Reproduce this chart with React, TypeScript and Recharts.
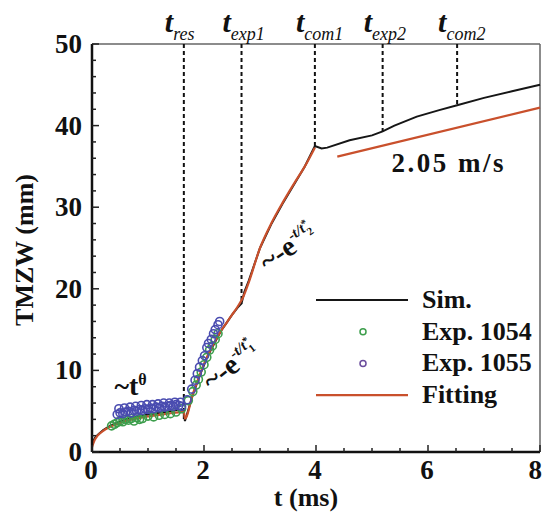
import React from "react";
import {
  ComposedChart,
  Line,
  Scatter,
  XAxis,
  YAxis,
  ReferenceLine,
  ReferenceDot,
  Legend,
} from "recharts";

const FONT = "Liberation Serif, Times New Roman, serif";
const SIM_COLOR = "#161616";
const FIT_COLOR = "#c9502c";
const GREEN = "#3d9e4c";
const BLUE = "#4a4cb0";

// simulation curve (black)
const simT = [0, 0.05, 0.1, 0.2, 0.3, 0.4, 0.5, 0.6, 0.7, 0.8, 0.9, 1.0, 1.1, 1.2, 1.3, 1.4, 1.5, 1.6, 1.63, 1.66, 1.8, 1.92, 2.05, 2.16, 2.3, 2.4, 2.5, 2.6, 2.67, 2.72, 2.8, 3.0, 3.2, 3.4, 3.6, 3.8, 3.98, 4.1, 4.2, 4.6, 5.0, 5.19, 5.4, 5.8, 6.2, 6.52, 7.0, 7.5, 8.0];
const simY = [1.0, 1.7, 2.1, 2.7, 3.1, 3.45, 3.75, 4.0, 4.2, 4.35, 4.5, 4.6, 4.7, 4.8, 4.9, 5.0, 5.1, 5.2, 5.0, 3.8, 7.0, 9.3, 11.5, 13.0, 14.8, 15.8, 16.8, 17.7, 18.2, 19.6, 21.0, 25.0, 27.9, 30.4, 32.7, 35.0, 37.5, 37.2, 37.3, 38.2, 38.8, 39.3, 40.0, 41.1, 41.9, 42.5, 43.4, 44.2, 45.0];

// fitting curves (red)
const fitT = [0, 0.02, 0.05, 0.1, 0.2, 0.3, 0.4, 0.5, 0.6, 0.7, 0.8, 0.9, 1.0, 1.2, 1.4, 1.6, 1.64, 1.66, 1.8, 1.92, 2.05, 2.16, 2.3, 2.4, 2.5, 2.6, 2.7, 2.8, 3.0, 3.2, 3.4, 3.6, 3.8, 3.98];
const fitY = [0.6, 1.0, 1.5, 2.0, 2.6, 3.0, 3.3, 3.55, 3.8, 3.95, 4.1, 4.25, 4.35, 4.55, 4.75, 4.9, 4.95, 4.1, 7.1, 9.4, 11.6, 13.1, 14.8, 15.8, 16.8, 17.8, 19.0, 20.8, 25.0, 28.0, 30.5, 32.8, 35.0, 37.3];
const fit2T = [4.38, 8.0];
const fit2Y = [36.2, 42.2];

// experiments
const e1054T = [0.35, 0.4, 0.45, 0.5, 0.55, 0.6, 0.65, 0.7, 0.75, 0.8, 0.85, 0.9, 1.0, 1.1, 1.2, 1.3, 1.4, 1.5, 1.6, 1.72, 1.8, 1.86, 1.9, 1.95, 2.0, 2.05, 2.1, 2.15, 2.2, 2.25];
const e1054Y = [3.2, 3.4, 3.6, 3.8, 3.7, 4.0, 3.9, 4.1, 3.8, 4.2, 4.0, 4.1, 4.4, 4.3, 4.5, 4.6, 4.7, 4.9, 5.3, 6.3, 7.4, 8.2, 8.9, 9.8, 10.7, 11.6, 12.5, 13.0, 13.8, 14.5];
const e1055T = [0.45, 0.5, 0.55, 0.6, 0.65, 0.7, 0.75, 0.8, 0.85, 0.9, 0.95, 1.0, 1.05, 1.1, 1.15, 1.2, 1.25, 1.3, 1.35, 1.4, 1.45, 1.5, 1.55, 1.6, 0.48, 0.58, 0.68, 0.78, 0.88, 0.98, 1.08, 1.18, 1.28, 1.38, 1.48, 1.58, 1.7, 1.78, 1.84, 1.88, 1.92, 1.97, 2.01, 2.05, 2.08, 2.13, 2.17, 2.2, 2.25, 2.28];
const e1055Y = [4.6, 4.8, 4.7, 4.9, 5.0, 4.8, 5.1, 5.0, 5.2, 5.1, 5.3, 5.2, 5.4, 5.3, 5.5, 5.4, 5.6, 5.5, 5.6, 5.7, 5.6, 5.8, 5.7, 5.6, 5.3, 5.4, 5.5, 5.6, 5.7, 5.8, 5.8, 5.9, 6.0, 6.0, 6.1, 6.1, 6.4, 7.7, 8.8, 9.6, 10.4, 11.2, 11.8, 12.8, 13.3, 13.8, 14.5, 15.0, 15.6, 16.0];

// characteristic times
const markerT = [1.64, 2.67, 3.98, 5.19, 6.52];
const markerY = [3.8, 18.2, 37.5, 39.3, 42.5];
const markerSubs = ["res", "exp1", "com1", "exp2", "com2"];

const xTicks = [0, 0.5, 1, 1.5, 2, 2.5, 3, 3.5, 4, 4.5, 5, 5.5, 6, 6.5, 7, 7.5, 8];
const yTicks = [0, 2, 4, 6, 8, 10, 12, 14, 16, 18, 20, 22, 24, 26, 28, 30, 32, 34, 36, 38, 40, 42, 44, 46, 48, 50];

const seriesNames = ["Sim.", "Exp. 1054", "Exp. 1055", "Fitting"];

const toPts = (ts: number[], ys: number[]) => ts.map((t, i) => ({ t, y: ys[i] }));
const simData = toPts(simT, simY);
const fitData = toPts(fitT, fitY);
const fit2Data = toPts(fit2T, fit2Y);
const e1054Data = toPts(e1054T, e1054Y);
const e1055Data = toPts(e1055T, e1055Y);

const txt = { fontFamily: FONT, fontWeight: "bold" as const };

const XTick = (p: any) => {
  const v = p.payload.value;
  const major = v % 2 === 0;
  const last = v === 8;
  return (
    <g>
      <line x1={p.x} x2={p.x} y1={p.y} y2={p.y - (major ? 7 : 4)} stroke="#222" strokeWidth={1.5} />
      {major && (
        <text
          x={last ? p.x + 2 : p.x - 1}
          y={p.y + 27}
          textAnchor={last ? "end" : "middle"}
          style={txt}
          fontSize={27}
          fill="#111"
        >
          {v}
        </text>
      )}
    </g>
  );
};

const YTick = (p: any) => {
  const v = p.payload.value;
  const major = v % 10 === 0;
  return (
    <g>
      <line x1={p.x} x2={p.x + (major ? 7 : 4)} y1={p.y} y2={p.y} stroke="#222" strokeWidth={1.5} />
      {major && (
        <text x={p.x - 10} y={p.y + 9} textAnchor="end" style={txt} fontSize={27} fill="#111">
          {v}
        </text>
      )}
    </g>
  );
};

const openCircle = (color: string, r: number) => (p: any) =>
  <circle cx={p.cx} cy={p.cy} r={r} fill="none" stroke={color} strokeWidth={1.6} />;

const markerLabel = (sub: string) => (p: any) => {
  const vb = p.viewBox;
  return (
    <text x={vb.x - 19} y={32} style={{ fontFamily: FONT }} fill="#111">
      <tspan fontSize={30} fontWeight="bold" fontStyle="italic">t</tspan>
      <tspan fontSize={18} fontStyle="italic" dy={8}>{sub}</tspan>
    </text>
  );
};

const thetaLabel = (p: any) => (
  <text x={p.viewBox.x} y={p.viewBox.y} style={txt} fill="#111">
    <tspan fontSize={28}>~t</tspan>
    <tspan fontSize={16} dy={-10}>θ</tspan>
  </text>
);

const expLabel = (idx: string, angle: number) => (p: any) => {
  const { x, y } = p.viewBox;
  return (
    <text x={x} y={y} style={txt} fill="#111" transform={`rotate(${angle} ${x} ${y})`}>
      <tspan fontSize={29}>~-e</tspan>
      <tspan fontSize={15} dy={-12} fontStyle="italic">-t/t</tspan>
      <tspan fontSize={11} dy={-4}>*</tspan>
      <tspan fontSize={11} dx={-5} dy={10}>{idx}</tspan>
    </text>
  );
};

const speedLabel = (p: any) => (
  <text x={p.viewBox.x} y={p.viewBox.y} style={txt} fontSize={27} letterSpacing={2.5} fill="#111">
    2.05 m/s
  </text>
);

const LegendBox = () => {
  const rows = [
    { kind: "line", color: SIM_COLOR },
    { kind: "dot", color: GREEN },
    { kind: "dot", color: "#6a4c9c" },
    { kind: "line", color: FIT_COLOR },
  ];
  return (
    <svg width={240} height={130}>
      {rows.map((r, i) => {
        const cy = 17 + i * 31.7;
        return (
          <g key={i}>
            {r.kind === "line" ? (
              <line x1={11} x2={103} y1={cy} y2={cy} stroke={r.color} strokeWidth={2.2} />
            ) : (
              <circle cx={58} cy={cy} r={3} fill="none" stroke={r.color} strokeWidth={1.5} />
            )}
            <text x={117} y={cy + 8} style={txt} fontSize={26} fill="#111">
              {seriesNames[i]}
            </text>
          </g>
        );
      })}
    </svg>
  );
};

export default function App() {
  return (
    <div style={{ position: "absolute", left: 0, top: 0, width: 543, height: 515, background: "#fff" }}>
      <ComposedChart width={543} height={515} margin={{ top: 44, right: 3, bottom: 0, left: 0 }}>
        <XAxis
          type="number"
          dataKey="t"
          domain={[0, 8]}
          ticks={xTicks}
          interval={0}
          height={63}
          tickSize={0}
          tickMargin={0}
          tickLine={false}
          tick={XTick}
          axisLine={{ stroke: "#111", strokeWidth: 2.5 }}
          label={(p: any) => (
            <text
              x={p.viewBox.x + p.viewBox.width / 2 - 10}
              y={p.viewBox.y + 54}
              textAnchor="middle"
              style={txt}
              fontSize={26}
              fill="#111"
            >
              t (ms)
            </text>
          )}
        />
        <YAxis
          type="number"
          dataKey="y"
          domain={[0, 50]}
          ticks={yTicks}
          interval={0}
          width={92}
          tickSize={0}
          tickMargin={0}
          tickLine={false}
          tick={YTick}
          axisLine={{ stroke: "#111", strokeWidth: 2.5 }}
          label={() => (
            <text
              x={24}
              y={250}
              transform="rotate(-90 24 250)"
              textAnchor="middle"
              dominantBaseline="central"
              style={txt}
              fontSize={26}
              fill="#111"
            >
              TMZW (mm)
            </text>
          )}
        />
        <ReferenceLine y={50} stroke="#666" strokeWidth={1.5} />
        <ReferenceLine x={8} stroke="#666" strokeWidth={1.5} />
        {markerT.map((t, i) => (
          <ReferenceLine
            key={markerSubs[i]}
            segment={[
              { x: t, y: 50 },
              { x: t, y: markerY[i] },
            ]}
            stroke="#111"
            strokeWidth={2}
            strokeDasharray="4 3"
            label={markerLabel(markerSubs[i])}
          />
        ))}
        <Scatter name={seriesNames[1]} data={e1054Data} dataKey="y" shape={openCircle(GREEN, 4)} isAnimationActive={false} />
        <Scatter name={seriesNames[2]} data={e1055Data} dataKey="y" shape={openCircle(BLUE, 4)} isAnimationActive={false} />
        <Line name={seriesNames[0]} data={simData} dataKey="y" type="linear" stroke={SIM_COLOR} strokeWidth={2} dot={false} isAnimationActive={false} />
        <Line name={seriesNames[3]} data={fitData} dataKey="y" type="monotone" stroke={FIT_COLOR} strokeWidth={2.2} dot={false} isAnimationActive={false} />
        <Line data={fit2Data} dataKey="y" type="linear" stroke={FIT_COLOR} strokeWidth={2.2} dot={false} legendType="none" isAnimationActive={false} />
        <ReferenceDot x={0.4} y={7.0} r={0} fill="none" stroke="none" label={thetaLabel} />
        <ReferenceDot x={2.14} y={7.4} r={0} fill="none" stroke="none" label={expLabel("1", -38)} />
        <ReferenceDot x={3.14} y={22.0} r={0} fill="none" stroke="none" label={expLabel("2", -35)} />
        <ReferenceDot x={5.35} y={34.3} r={0} fill="none" stroke="none" label={speedLabel} />
        <Legend
          layout="vertical"
          align="center"
          verticalAlign="middle"
          content={LegendBox}
          wrapperStyle={{ left: 305, top: 283, width: 240, height: 130 }}
        />
      </ComposedChart>
    </div>
  );
}
